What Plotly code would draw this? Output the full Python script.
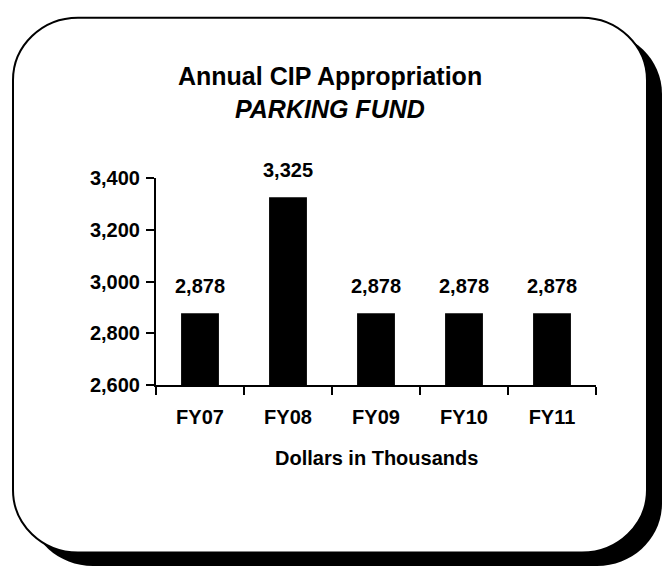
import plotly.graph_objects as go

# ---- data ----
categories = ["FY07", "FY08", "FY09", "FY10", "FY11"]
values = [2878, 3325, 2878, 2878, 2878]
value_labels = ["2,878", "3,325", "2,878", "2,878", "2,878"]
y_ticks = [2600, 2800, 3000, 3200, 3400]
title_line1 = "Annual CIP Appropriation"
title_line2 = "PARKING FUND"
x_title = "Dollars in Thousands"

W, H = 667, 577
FONT = "Liberation Sans, Arial, sans-serif"


def px(x):
    return x / W


def py(y):
    return 1 - y / H


def rounded_rect(x0, y0, x1, y1, r):
    k = 0.5523 * r
    pts = [
        ("M", [(x0 + r, y0)]),
        ("L", [(x1 - r, y0)]),
        ("C", [(x1 - r + k, y0), (x1, y0 + r - k), (x1, y0 + r)]),
        ("L", [(x1, y1 - r)]),
        ("C", [(x1, y1 - r + k), (x1 - r + k, y1), (x1 - r, y1)]),
        ("L", [(x0 + r, y1)]),
        ("C", [(x0 + r - k, y1), (x0, y1 - r + k), (x0, y1 - r)]),
        ("L", [(x0, y0 + r)]),
        ("C", [(x0, y0 + r - k), (x0 + r - k, y0), (x0 + r, y0)]),
    ]
    s = ""
    for cmd, ps in pts:
        s += cmd + " " + " ".join(f"{px(a):.5f},{py(b):.5f}" for a, b in ps) + " "
    return s + "Z"


fig = go.Figure()
fig.add_trace(go.Bar(
    x=categories, y=values, marker=dict(color="black", line=dict(width=0)),
    hoverinfo="skip",
))

annotations = []
for c, v, t in zip(categories, values, value_labels):
    annotations.append(dict(
        x=c, y=v, xref="x", yref="y", text=f"<b>{t}</b>", showarrow=False,
        yanchor="middle", yshift=27, font=dict(family=FONT, size=20, color="black"),
    ))

annotations.append(dict(
    x=px(330), y=py(68), xref="paper", yref="paper", text=f"<b>{title_line1}</b>",
    showarrow=False, xanchor="center", yanchor="middle",
    font=dict(family=FONT, size=25, color="black"),
))
annotations.append(dict(
    x=px(330), y=py(102), xref="paper", yref="paper", text=f"<b><i>{title_line2}</i></b>",
    showarrow=False, xanchor="center", yanchor="middle",
    font=dict(family=FONT, size=25, color="black"),
))
annotations.append(dict(
    x=px(376), y=py(465), xref="paper", yref="paper", text=f"<b>{x_title}</b>",
    showarrow=False, xanchor="center", yanchor="middle",
    font=dict(family=FONT, size=20, color="black"),
))

shapes = [
    dict(type="path", path=rounded_rect(28, 21, 662, 577, 65), xref="paper", yref="paper",
         fillcolor="black", line=dict(width=0), layer="below"),
    dict(type="path", path=rounded_rect(13, 7, 647, 563, 65), xref="paper", yref="paper",
         fillcolor="white", line=dict(width=2, color="black"), layer="below"),
]

fig.update_layout(
    width=W, height=H,
    margin=dict(l=0, r=0, t=0, b=0, pad=0),
    paper_bgcolor="white", plot_bgcolor="rgba(0,0,0,0)",
    showlegend=False, bargap=0.57,
    annotations=annotations, shapes=shapes,
    font=dict(family=FONT, size=20, color="black"),
    xaxis=dict(
        domain=[px(156), px(596)], showgrid=False, zeroline=False,
        showline=True, linecolor="black", linewidth=2,
        ticks="outside", ticklen=8, tickwidth=2, tickcolor="black",
        tickson="boundaries", ticklabelstandoff=13,
        tickfont=dict(family=FONT, size=20, weight="bold"),
        fixedrange=True,
    ),
    yaxis=dict(
        domain=[py(389), py(173.5)], range=[2600, 3400],
        tickvals=y_ticks, tickformat=",", showgrid=False, zeroline=False,
        showline=True, linecolor="black", linewidth=2,
        ticks="outside", ticklen=8, tickwidth=2, tickcolor="black",
        ticklabelstandoff=2,
        tickfont=dict(family=FONT, size=20, weight="bold"),
        fixedrange=True,
    ),
)

fig.write_html(
    "out.html",
    config={"staticPlot": True},
    post_script="document.body.style.margin='0px';document.body.style.overflow='hidden';",
)
